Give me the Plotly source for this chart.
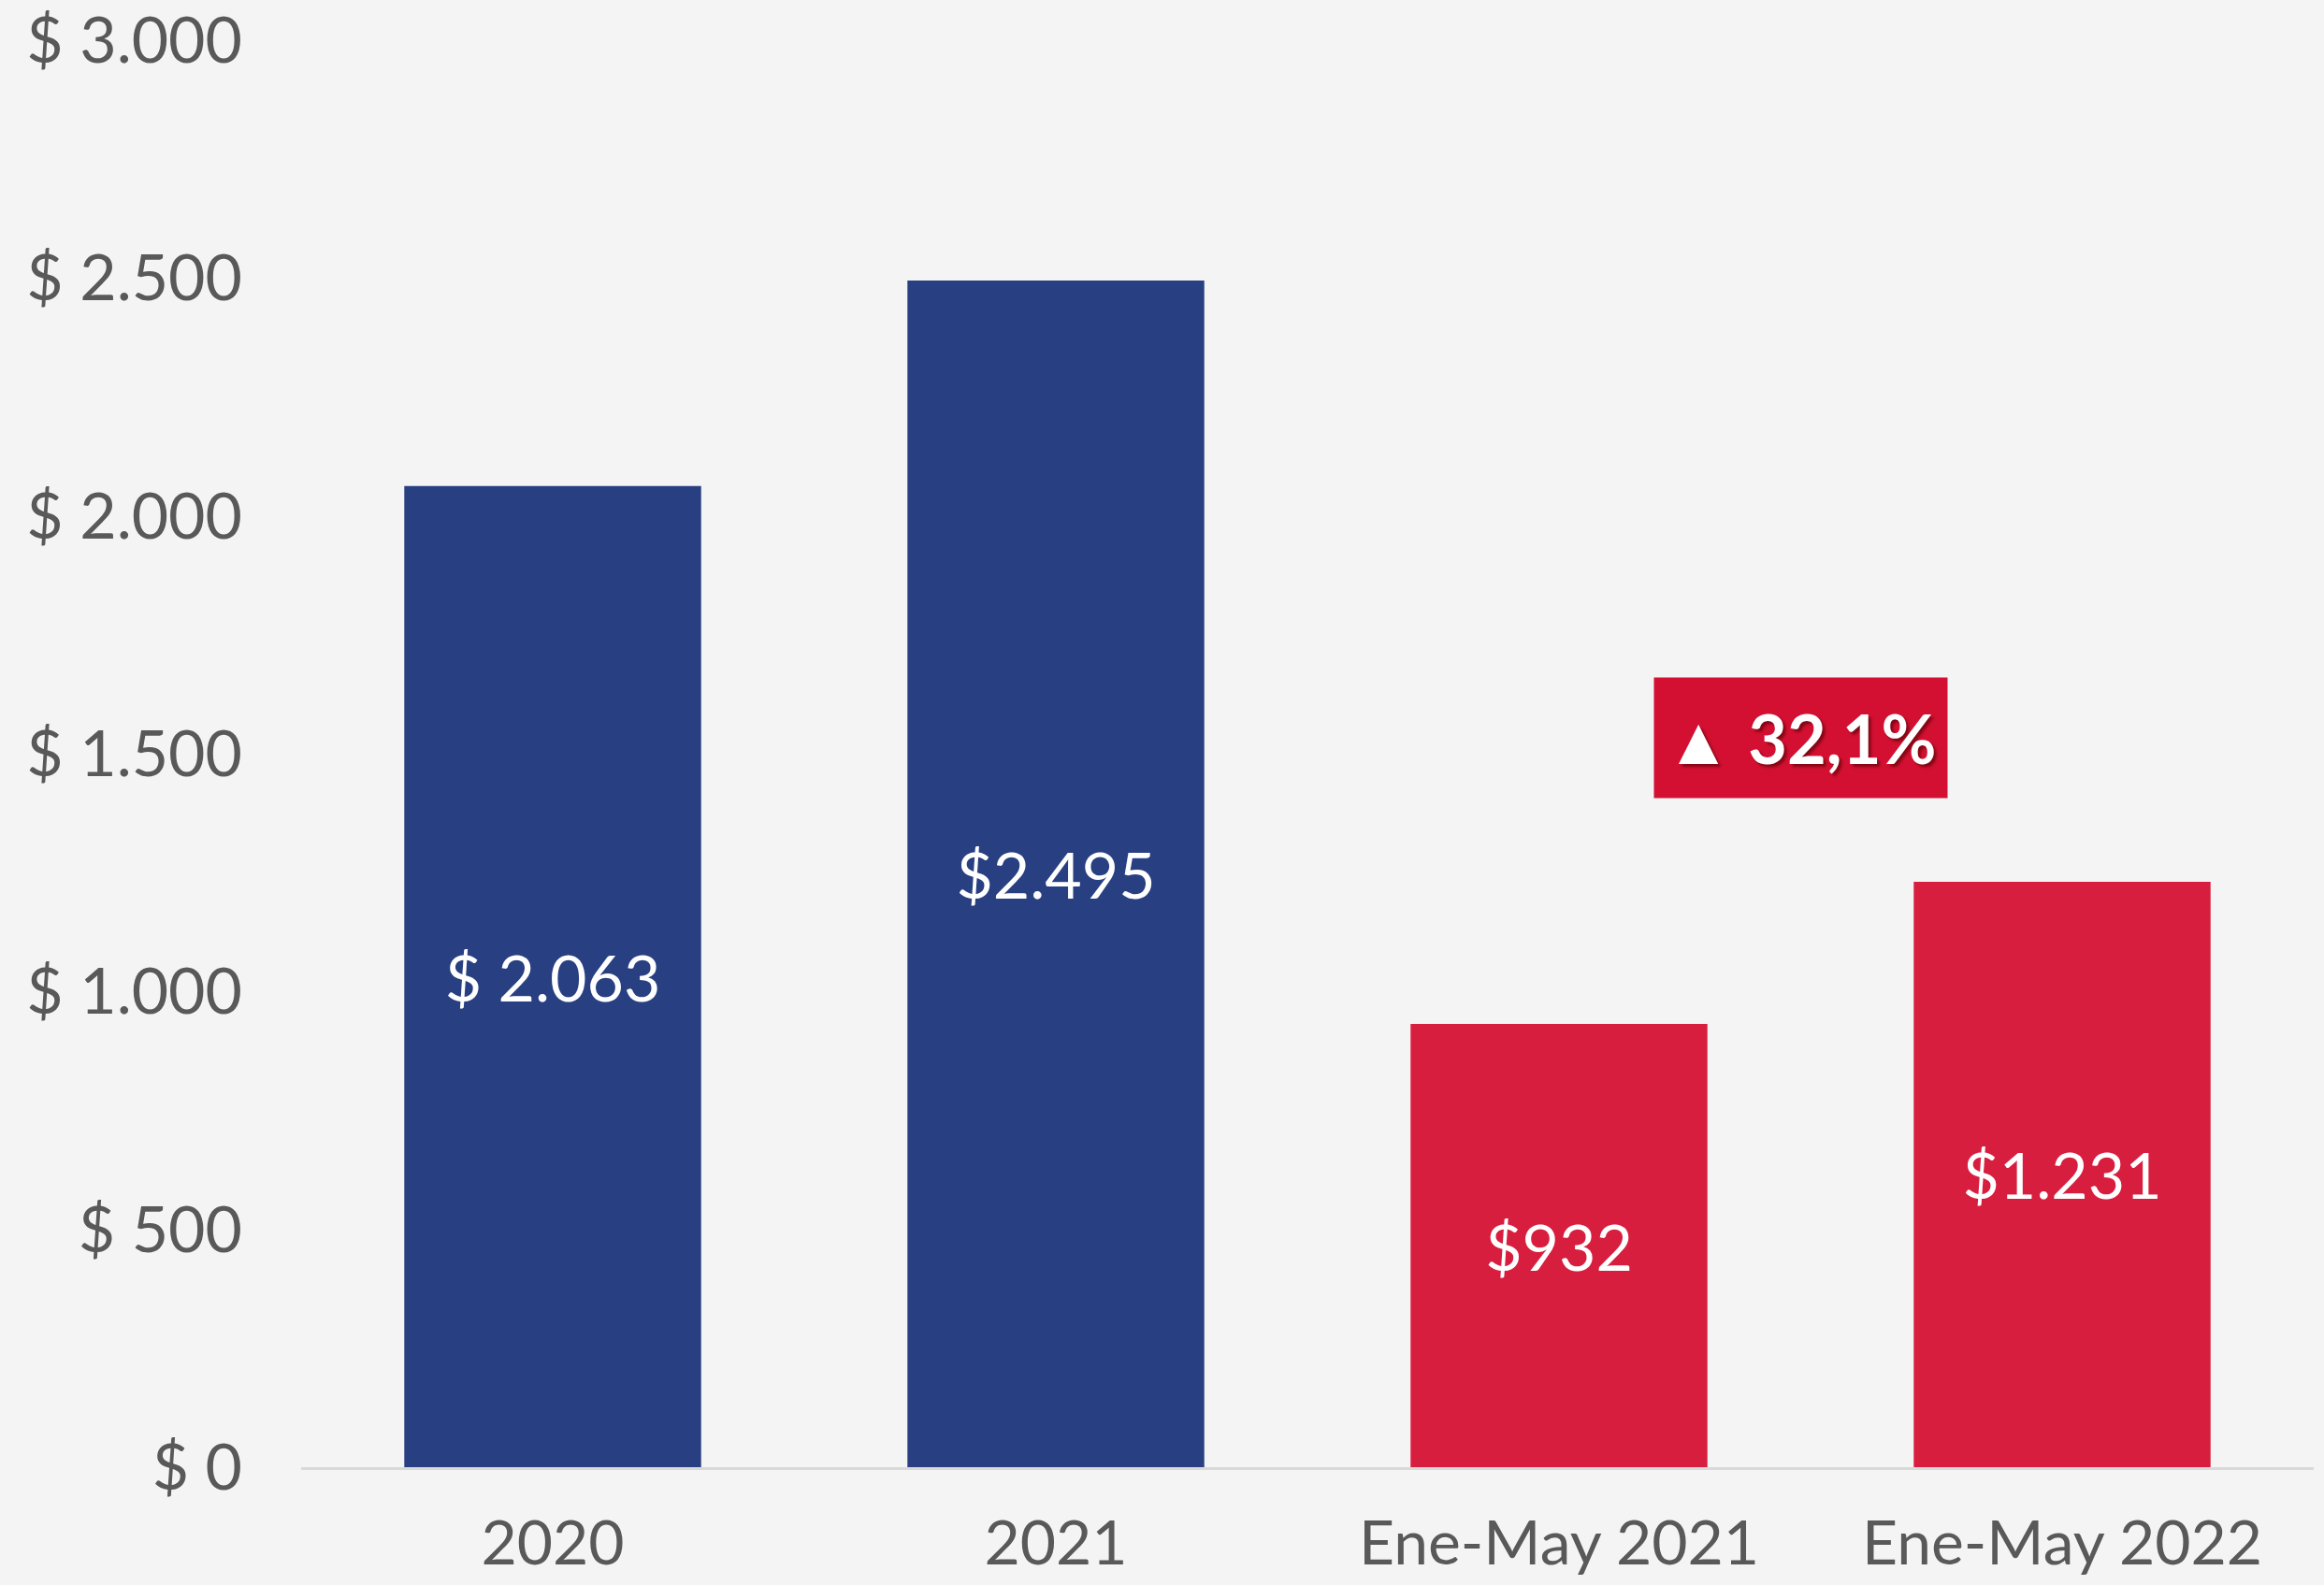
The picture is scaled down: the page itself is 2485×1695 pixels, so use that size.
import plotly.graph_objects as go

categories = ["2020", "2021", "Ene-May 2021", "Ene-May 2022"]
values = [2063, 2495, 932, 1231]
value_labels = ["$ 2.063", "$2.495", "$932", "$1.231"]
bar_colors = ["#283F82", "#283F82", "#D81E3E", "#D81E3E"]
y_tickvals = [0, 500, 1000, 1500, 2000, 2500, 3000]
y_ticktext = ["$ 0", "$ 500", "$ 1.000", "$ 1.500", "$ 2.000", "$ 2.500", "$ 3.000"]
growth_label = "▲ 32,1%"

FONT = "Lato"

fig = go.Figure()
fig.add_trace(go.Bar(
    x=categories,
    y=values,
    marker=dict(color=bar_colors, line=dict(width=0)),
    text=value_labels,
    textposition="inside",
    insidetextanchor="middle",
    textangle=0,
    textfont=dict(family=FONT, size=68, color="white"),
    hoverinfo="skip",
))

fig.add_annotation(
    x=2.48, y=1533, xref="x", yref="y",
    text="<b>" + growth_label + "</b>",
    showarrow=False,
    font=dict(family=FONT, size=72, color="white",
              shadow="3px 3px 3px rgba(80,0,0,0.6)"),
    bgcolor="#D41032",
    width=311, height=126,
    align="center", valign="middle",
)

fig.update_layout(
    width=2485, height=1695,
    paper_bgcolor="#F4F4F4",
    plot_bgcolor="#F4F4F4",
    margin=dict(l=322, r=11, t=43, b=126, autoexpand=False),
    bargap=0.41,
    showlegend=False,
    font=dict(family=FONT, color="#595959"),
)
fig.update_xaxes(
    type="category",
    range=[-0.5, 3.5],
    automargin=False,
    showline=True, linecolor="#D9D9D9", linewidth=3,
    showgrid=False, zeroline=False,
    ticks="",
    tickfont=dict(family=FONT, size=66, color="#595959"),
    ticklabelstandoff=22,
)
fig.update_yaxes(
    range=[0, 3000.5],
    automargin=False,
    tickvals=y_tickvals, ticktext=y_ticktext,
    showgrid=False, zeroline=False, showline=False,
    ticks="",
    tickfont=dict(family=FONT, size=68, color="#595959"),
    ticklabelstandoff=62,
)

fig.write_html(
    "out.html",
    config={"displayModeBar": False},
    post_script="document.body.style.margin='0';document.body.style.overflow='hidden';",
)
